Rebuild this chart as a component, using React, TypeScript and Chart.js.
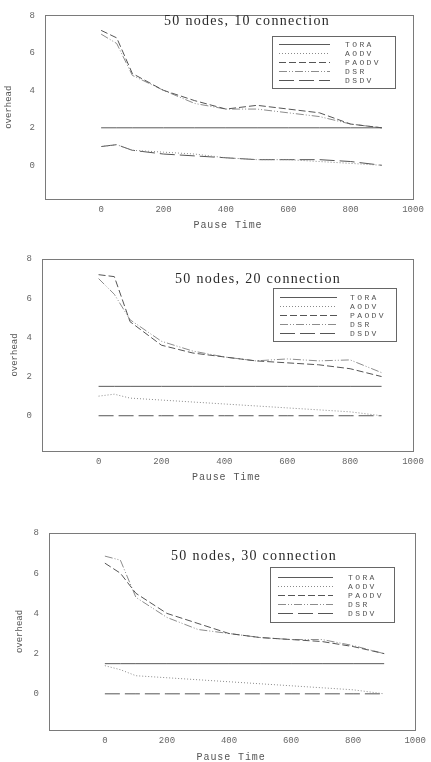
import React, { useEffect, useRef } from "react";
import { Chart, registerables } from "chart.js";

Chart.register(...registerables);

// ---- data ----
const pauseTimes = [0, 50, 100, 200, 300, 400, 500, 600, 700, 800, 900];
const seriesNames = ["TORA", "AODV", "PAODV", "DSR", "DSDV"];
const xTickValues = [0, 200, 400, 600, 800, 1000];
const yTickValues = [0, 2, 4, 6, 8];

const tora10 = [2, 2, 2, 2, 2, 2, 2, 2, 2, 2, 2];
const aodv10 = [1.0, 1.1, 0.8, 0.7, 0.6, 0.4, 0.3, 0.3, 0.2, 0.1, 0.0];
const paodv10 = [7.2, 6.8, 4.9, 4.0, 3.45, 3.0, 3.2, 3.0, 2.8, 2.2, 2.0];
const dsr10 = [7.0, 6.5, 4.8, 4.0, 3.3, 3.0, 3.0, 2.8, 2.6, 2.2, 2.0];
const dsdv10 = [1.0, 1.1, 0.8, 0.6, 0.5, 0.4, 0.3, 0.3, 0.3, 0.2, 0.0];

const tora20 = [1.5, 1.5, 1.5, 1.5, 1.5, 1.5, 1.5, 1.5, 1.5, 1.5, 1.5];
const aodv20 = [1.0, 1.1, 0.9, 0.8, 0.7, 0.6, 0.5, 0.4, 0.3, 0.2, 0.0];
const paodv20 = [7.2, 7.1, 4.8, 3.6, 3.2, 3.0, 2.8, 2.7, 2.6, 2.4, 2.0];
const dsr20 = [7.0, 6.2, 4.9, 3.8, 3.3, 3.0, 2.8, 2.9, 2.8, 2.85, 2.2];
const dsdv20 = [0, 0, 0, 0, 0, 0, 0, 0, 0, 0, 0];

const tora30 = [1.5, 1.5, 1.5, 1.5, 1.5, 1.5, 1.5, 1.5, 1.5, 1.5, 1.5];
const aodv30 = [1.4, 1.2, 0.9, 0.8, 0.7, 0.6, 0.5, 0.4, 0.3, 0.2, 0.0];
const paodv30 = [6.5, 6.0, 5.0, 4.0, 3.5, 3.0, 2.8, 2.7, 2.6, 2.35, 2.0];
const dsr30 = [6.85, 6.65, 4.8, 3.8, 3.2, 3.0, 2.8, 2.7, 2.7, 2.4, 2.0];
const dsdv30 = [0, 0, 0, 0, 0, 0, 0, 0, 0, 0, 0];

const titles = ["50 nodes, 10 connection", "50 nodes, 20 connection", "50 nodes, 30 connection"];
const xTitle = "Pause Time";
const yTitle = "overhead";

// ---- styles ----
const lineStyles = [
  { color: "#5a5a5a", dash: [] as number[] },
  { color: "#8a8a8a", dash: [1, 2] },
  { color: "#555555", dash: [7, 3] },
  { color: "#8c8c8c", dash: [8, 2, 1, 2, 1, 2] },
  { color: "#555555", dash: [15, 5] },
];

type Layout = {
  top: number;
  height: number;
  area: { left: number; right: number; top: number; bottom: number };
  title: { x: number; y: number };
  legend: { left: number; top: number; w: number; h: number; row0: number; gap: number; s0: number; s1: number; tx: number };
  yTitleX: number;
  xTitleDy: number;
};

const layouts: Layout[] = [
  {
    top: 0,
    height: 240,
    area: { left: 45, right: 413, top: 9, bottom: 199 },
    title: { x: 247, y: 21 },
    legend: { left: 272, top: 36, w: 123, h: 52, row0: 8, gap: 9, s0: 7, s1: 58, tx: 73 },
    yTitleX: 9,
    xTitleDy: 26,
  },
  {
    top: 240,
    height: 260,
    area: { left: 42, right: 413, top: 19, bottom: 211 },
    title: { x: 258, y: 39 },
    legend: { left: 273, top: 48, w: 123, h: 53, row0: 9, gap: 9, s0: 7, s1: 64, tx: 77 },
    yTitleX: 15,
    xTitleDy: 26,
  },
  {
    top: 500,
    height: 262,
    area: { left: 49, right: 419, top: 33, bottom: 230 },
    title: { x: 254, y: 56 },
    legend: { left: 270, top: 67, w: 124, h: 55, row0: 10, gap: 9, s0: 8, s1: 63, tx: 78 },
    yTitleX: 20,
    xTitleDy: 27,
  },
];

const panelSeries = [
  [tora10, aodv10, paodv10, dsr10, dsdv10],
  [tora20, aodv20, paodv20, dsr20, dsdv20],
  [tora30, aodv30, paodv30, dsr30, dsdv30],
];

const tickFont = { family: "'Liberation Mono', monospace", size: 9 };

function Panel({ layout, title, series }: { layout: Layout; title: string; series: number[][] }) {
  const ref = useRef<HTMLCanvasElement | null>(null);
  useEffect(() => {
    const canvas = ref.current;
    if (!canvas) return;
    const a = layout.area;
    const overlay = {
      id: "overlay",
      afterDraw(chart: any) {
        const ctx: CanvasRenderingContext2D = chart.ctx;
        const ca = chart.chartArea;
        ctx.save();
        // frame
        ctx.strokeStyle = "#7a7a7a";
        ctx.lineWidth = 1;
        ctx.setLineDash([]);
        ctx.strokeRect(Math.round(ca.left) + 0.5, Math.round(ca.top) + 0.5, Math.round(ca.right - ca.left), Math.round(ca.bottom - ca.top));
        // title
        (ctx as any).letterSpacing = "1.3px";
        ctx.fillStyle = "#2a2a2a";
        ctx.font = "14px 'Liberation Serif', serif";
        ctx.textAlign = "center";
        ctx.textBaseline = "middle";
        ctx.fillText(title, layout.title.x, layout.title.y);
        // legend
        const L = layout.legend;
        ctx.strokeStyle = "#666";
        ctx.strokeRect(L.left + 0.5, L.top + 0.5, L.w, L.h);
        ctx.font = "8px 'Liberation Mono', monospace";
        (ctx as any).letterSpacing = "2.4px";
        ctx.textAlign = "left";
        ctx.fillStyle = "#555";
        chart.data.datasets.forEach((ds: any, i: number) => {
          const y = Math.round(L.top + L.row0 + i * L.gap) + 0.5;
          ctx.beginPath();
          ctx.strokeStyle = ds.borderColor;
          ctx.setLineDash(ds.borderDash || []);
          ctx.moveTo(L.left + L.s0, y);
          ctx.lineTo(L.left + L.s1, y);
          ctx.stroke();
          ctx.fillText(ds.label, L.left + L.tx, y);
        });
        ctx.setLineDash([]);
        // axis titles
        ctx.fillStyle = "#555";
        ctx.font = "10px 'Liberation Mono', monospace";
        (ctx as any).letterSpacing = "0.9px";
        ctx.textAlign = "center";
        ctx.fillText(xTitle, (ca.left + ca.right) / 2 - 1, ca.bottom + layout.xTitleDy);
        (ctx as any).letterSpacing = "0px";
        ctx.font = "9px 'Liberation Mono', monospace";
        ctx.translate(layout.yTitleX, (ca.top + ca.bottom) / 2);
        ctx.rotate(-Math.PI / 2);
        ctx.fillText(yTitle, 0, 0);
        ctx.restore();
      },
    };
    const chart = new Chart(canvas, {
      type: "line",
      data: {
        datasets: seriesNames.map((name, i) => ({
          label: name,
          data: pauseTimes.map((x, j) => ({ x, y: series[i][j] })),
          borderColor: lineStyles[i].color,
          borderDash: lineStyles[i].dash,
          borderWidth: 1,
          pointRadius: 0,
          tension: 0,
          fill: false,
        })),
      },
      options: {
        animation: false,
        responsive: false,
        maintainAspectRatio: false,
        layout: { padding: { left: 0, top: a.top, right: 431 - a.right, bottom: 0 } },
        plugins: { legend: { display: false }, tooltip: { enabled: false }, title: { display: false } },
        scales: {
          x: {
            type: "linear",
            min: -180,
            max: 1000,
            grid: { display: false, drawTicks: false },
            border: { display: false },
            ticks: { font: tickFont, color: "#666", padding: 5, maxRotation: 0, autoSkip: false, callback: (v: any) => String(v) },
            afterBuildTicks: (s: any) => {
              s.ticks = xTickValues.map((v) => ({ value: v }));
            },
            afterFit: (s: any) => {
              s.height = layout.height - a.bottom;
            },
          },
          y: {
            type: "linear",
            min: -1.8,
            max: 8,
            grid: { display: false, drawTicks: false },
            border: { display: false },
            ticks: { font: tickFont, color: "#666", padding: 10, autoSkip: false, callback: (v: any) => String(v) },
            afterBuildTicks: (s: any) => {
              s.ticks = yTickValues.map((v) => ({ value: v }));
            },
            afterFit: (s: any) => {
              s.width = a.left;
            },
          },
        },
      } as any,
      plugins: [overlay],
    });
    return () => chart.destroy();
  }, [layout, title, series]);
  return (
    <canvas
      ref={ref}
      width={431}
      height={layout.height}
      style={{ position: "absolute", left: 0, top: layout.top, width: 431, height: layout.height }}
    />
  );
}

export default function App() {
  return (
    <div style={{ position: "absolute", left: 0, top: 0, width: 431, height: 762, background: "#fff", overflow: "hidden" }}>
      {layouts.map((l, i) => (
        <Panel key={i} layout={l} title={titles[i]} series={panelSeries[i]} />
      ))}
    </div>
  );
}
